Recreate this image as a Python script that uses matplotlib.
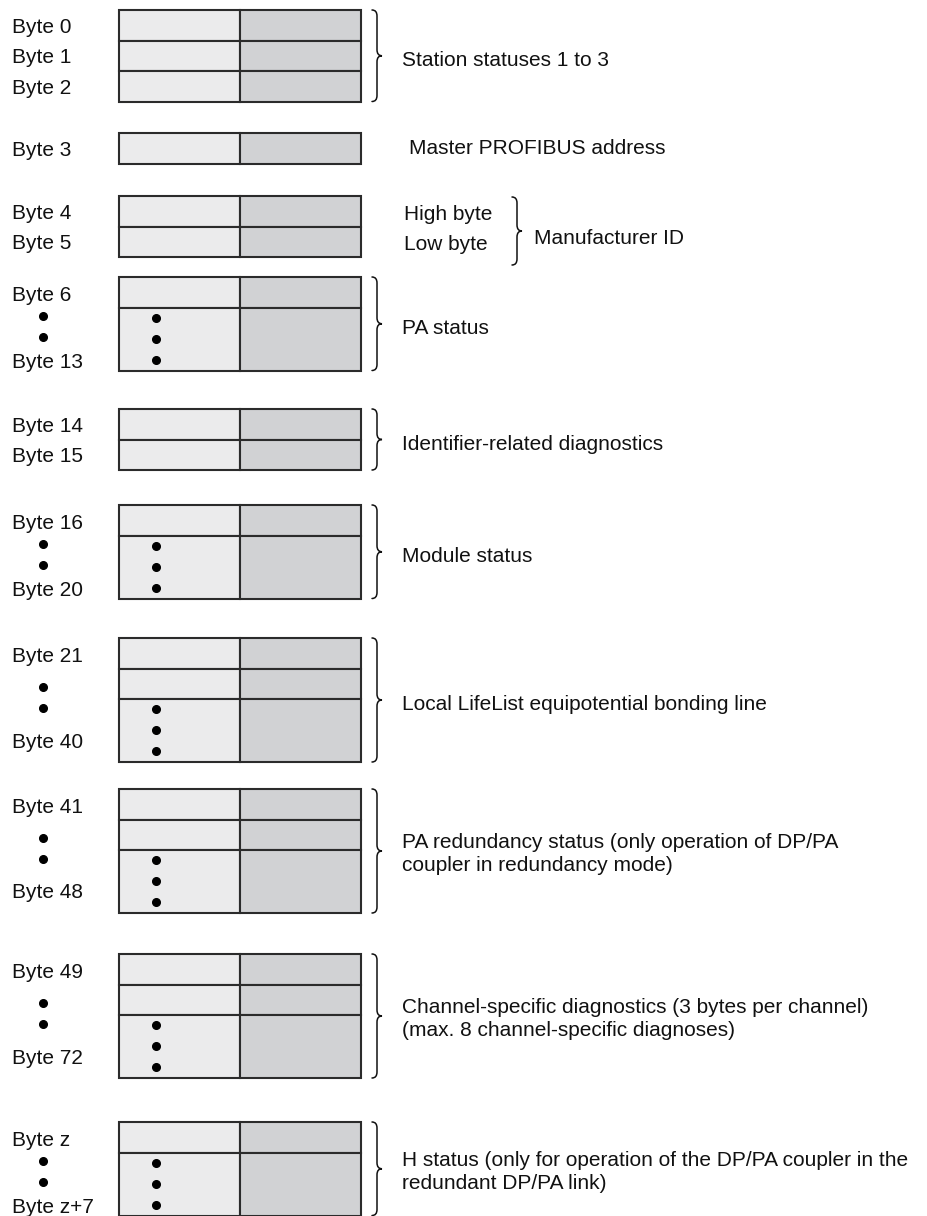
import matplotlib.pyplot as plt
from matplotlib.patches import Rectangle, PathPatch
from matplotlib.path import Path

plt.rcParams['font.family'] = ['Liberation Sans', 'DejaVu Sans']

# Diagram content
byte_labels = [
    ["Byte 0", "Byte 1", "Byte 2"],
    ["Byte 3"],
    ["Byte 4", "Byte 5"],
    ["Byte 6", "Byte 13"],
    ["Byte 14", "Byte 15"],
    ["Byte 16", "Byte 20"],
    ["Byte 21", "Byte 40"],
    ["Byte 41", "Byte 48"],
    ["Byte 49", "Byte 72"],
    ["Byte z", "Byte z+7"],
]
plain_rows = [3, 1, 2, 1, 2, 1, 2, 2, 2, 1]
has_range = [False, False, False, True, False, True, True, True, True, True]
has_brace = [True, False, True, True, True, True, True, True, True, True]
descriptions = [
    ["Station statuses 1 to 3"],
    ["Master PROFIBUS address"],
    ["Manufacturer ID"],
    ["PA status"],
    ["Identifier-related diagnostics"],
    ["Module status"],
    ["Local LifeList equipotential bonding line"],
    ["PA redundancy status (only operation of DP/PA",
     "coupler in redundancy mode)"],
    ["Channel-specific diagnostics (3 bytes per channel)",
     "(max. 8 channel-specific diagnoses)"],
    ["H status (only for operation of the DP/PA coupler in the",
     "redundant DP/PA link)"],
]
row_notes = {2: ["High byte", "Low byte"]}

# Layout (pixel units, y downwards)
W, H = 927, 1216
group_tops = [10, 133, 196, 277, 409, 505, 638, 789, 954, 1122]
ROW_H = 30.5
RANGE_H = 63
X0, XM, X1 = 119, 240, 361
LABEL_X = 12
DESC_X = 402
CAP = 7.5  # half cap height, to place baselines
FS = 15

light = '#ebebec'
dark = '#d1d2d4'
edge = '#2b2b2b'

fig = plt.figure(figsize=(W / 100, H / 100), dpi=100)
ax = fig.add_axes([0, 0, 1, 1])
ax.set_xlim(0, W)
ax.set_ylim(H, 0)
ax.axis('off')


def label(x, yc, s, **kw):
    ax.text(x, yc + CAP, s, fontsize=FS, va='baseline', color='#111111', **kw)


def brace(x, top, bottom, w=10, r=6):
    mid = (top + bottom) / 2
    xv = x + w / 2
    verts = [(x, top), (xv, top), (xv, top + r),
             (xv, mid - r), (xv, mid), (x + w, mid),
             (xv, mid), (xv, mid + r),
             (xv, bottom - r), (xv, bottom), (x, bottom)]
    codes = [Path.MOVETO, Path.CURVE3, Path.CURVE3,
             Path.LINETO, Path.CURVE3, Path.CURVE3,
             Path.CURVE3, Path.CURVE3,
             Path.LINETO, Path.CURVE3, Path.CURVE3]
    ax.add_patch(PathPatch(Path(verts, codes), fill=False, lw=1.1,
                           edgecolor='#111111', capstyle='round'))


def dot(x, y):
    ax.plot(x, y, 'o', color='black', markersize=5.5)


for i, labels in enumerate(byte_labels):
    top = group_tops[i]
    y = top
    # plain rows
    for k in range(plain_rows[i]):
        ax.add_patch(Rectangle((X0, y), XM - X0, ROW_H, facecolor=light, edgecolor=edge, lw=1.5))
        ax.add_patch(Rectangle((XM, y), X1 - XM, ROW_H, facecolor=dark, edgecolor=edge, lw=1.5))
        y += ROW_H
    bottom = y
    if has_range[i]:
        ax.add_patch(Rectangle((X0, y), XM - X0, RANGE_H, facecolor=light, edgecolor=edge, lw=1.5))
        ax.add_patch(Rectangle((XM, y), X1 - XM, RANGE_H, facecolor=dark, edgecolor=edge, lw=1.5))
        for off in (10, 31, 52):
            dot(156, y + off)
        bottom = y + RANGE_H
        first = top + ROW_H / 2 + 1
        last = bottom - (10 if plain_rows[i] == 1 else 22)
        label(LABEL_X, first, labels[0])
        label(LABEL_X, last, labels[-1])
        mid = (first + last) / 2
        dot(43, mid - 10.5)
        dot(43, mid + 10.5)
    else:
        for k, s in enumerate(labels):
            label(LABEL_X, top + ROW_H * (k + 0.5), s)

    bmid = (top + bottom) / 2
    if i in row_notes:
        for k, s in enumerate(row_notes[i]):
            label(404, top + ROW_H * (k + 0.5) + 1, s)
        brace(512, top + 1, top + 69)
        label(534, top + 40, descriptions[i][0])
        continue
    if has_brace[i]:
        brace(372, top, bottom)
    lines = descriptions[i]
    if len(lines) == 1:
        x = DESC_X if has_brace[i] else 409
        label(x, bmid + 3 if has_brace[i] else bmid - 2, lines[0])
    else:
        c = bmid + 1
        label(DESC_X, c - 11.5, lines[0])
        label(DESC_X, c + 11.5, lines[1])

fig.savefig('out.png', dpi=100)
